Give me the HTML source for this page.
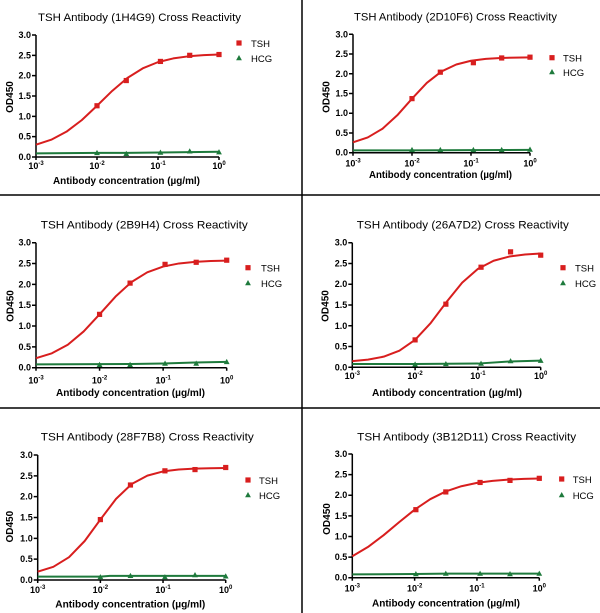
<!DOCTYPE html>
<html><head><meta charset="utf-8"><style>
html,body{margin:0;padding:0;background:#fff;}
svg{display:block;}
text{font-family:"Liberation Sans",Arial,sans-serif;fill:#000;}
.tt{font-size:11px;}
.tk{font-size:9px;font-weight:bold;}
.ax{font-size:10px;font-weight:bold;}
.lg{font-size:9.5px;}
.axl{fill:none;stroke:#000;stroke-width:1.5;}
.r{fill:none;stroke:#d81e1e;stroke-width:2;vector-effect:non-scaling-stroke;stroke-linejoin:round;}
.g{fill:none;stroke:#1e7a3c;stroke-width:2;vector-effect:non-scaling-stroke;stroke-linejoin:round;}
</style></head><body>
<svg width="600" height="613" viewBox="0 0 600 613" xmlns="http://www.w3.org/2000/svg">
<defs>
<rect id="sq" x="-2.6" y="-2.6" width="5.2" height="5.2" fill="#d81e1e"/>
<path id="tr" d="M0,-3 L2.9,2.2 L-2.9,2.2Z" fill="#1e7a3c"/>
</defs>
<rect width="600" height="613" fill="#fff"/>
<path d="M302,0V613M0,195H600M0,408H600" stroke="#000" stroke-width="1.5" fill="none"/>

<!-- Panel 1 -->
<text class="tt" x="139.5" y="21" text-anchor="middle" textLength="203" lengthAdjust="spacingAndGlyphs">TSH Antibody (1H4G9) Cross Reactivity</text>
<text class="ax" x="126.5" y="184" text-anchor="middle" textLength="147" lengthAdjust="spacingAndGlyphs">Antibody concentration (µg/ml)</text>
<text class="ax" transform="translate(9.5,97) rotate(-90)" y="3.5" text-anchor="middle">OD450</text>
<use href="#sq" x="239" y="43"/><text class="lg" x="251" y="47">TSH</text>
<use href="#tr" x="239" y="58"/><text class="lg" x="251" y="62">HCG</text>
<g transform="translate(36,157)">
<path class="axl" d="M0,0V-122M0,0H183M-4,0H0M-4,-20.33H0M-4,-40.67H0M-4,-61H0M-4,-81.33H0M-4,-101.67H0M-4,-122H0M0,0V3M61,0V3M122,0V3M183,0V3"/>
<g class="tk" text-anchor="end">
<text x="-5" y="3">0.0</text><text x="-5" y="-17.33">0.5</text><text x="-5" y="-37.67">1.0</text><text x="-5" y="-58">1.5</text><text x="-5" y="-78.33">2.0</text><text x="-5" y="-98.67">2.5</text><text x="-5" y="-119">3.0</text>
</g>
<g class="tk" text-anchor="middle">
<text x="0" y="12">10<tspan dy="-4" font-size="6">-3</tspan></text>
<text x="61" y="12">10<tspan dy="-4" font-size="6">-2</tspan></text>
<text x="122" y="12">10<tspan dy="-4" font-size="6">-1</tspan></text>
<text x="183" y="12">10<tspan dy="-4" font-size="6">0</tspan></text>
</g>
<g transform="scale(61,-40.667)">
<polyline class="g" points="0,0.09 1,0.1 1.48,0.1 2.04,0.11 2.52,0.12 3,0.13"/>
<polyline class="r" points="0,0.302 0.25,0.425 0.5,0.623 0.75,0.907 1,1.26 1.25,1.627 1.5,1.946 1.75,2.18 2,2.333 2.25,2.424 2.5,2.476 2.75,2.505 3,2.521"/>
<use href="#sq" transform="translate(1,1.26) scale(0.016393,-0.02459)"/>
<use href="#sq" transform="translate(1.48,1.88) scale(0.016393,-0.02459)"/>
<use href="#sq" transform="translate(2.04,2.35) scale(0.016393,-0.02459)"/>
<use href="#sq" transform="translate(2.52,2.5) scale(0.016393,-0.02459)"/>
<use href="#sq" transform="translate(3,2.52) scale(0.016393,-0.02459)"/>
<use href="#tr" transform="translate(1,0.1) scale(0.016393,-0.02459)"/>
<use href="#tr" transform="translate(1.48,0.08) scale(0.016393,-0.02459)"/>
<use href="#tr" transform="translate(2.04,0.11) scale(0.016393,-0.02459)"/>
<use href="#tr" transform="translate(2.52,0.14) scale(0.016393,-0.02459)"/>
<use href="#tr" transform="translate(3,0.12) scale(0.016393,-0.02459)"/>
</g>
</g>

<!-- Panel 2 -->
<text class="tt" x="455.5" y="20.5" text-anchor="middle" textLength="203" lengthAdjust="spacingAndGlyphs">TSH Antibody (2D10F6) Cross Reactivity</text>
<text class="ax" x="440.5" y="178" text-anchor="middle" textLength="143" lengthAdjust="spacingAndGlyphs">Antibody concentration (µg/ml)</text>
<text class="ax" transform="translate(326,97) rotate(-90)" y="3.5" text-anchor="middle">OD450</text>
<use href="#sq" x="552" y="57.7"/><text class="lg" x="563" y="61.5">TSH</text>
<use href="#tr" x="552" y="72"/><text class="lg" x="563" y="76">HCG</text>
<g transform="translate(353,152.7)">
<path class="axl" d="M0,0V-118.4M0,0H177M-4,0H0M-4,-19.73H0M-4,-39.47H0M-4,-59.2H0M-4,-78.93H0M-4,-98.67H0M-4,-118.4H0M0,0V3M59,0V3M118,0V3M177,0V3"/>
<g class="tk" text-anchor="end">
<text x="-5" y="3">0.0</text><text x="-5" y="-16.73">0.5</text><text x="-5" y="-36.47">1.0</text><text x="-5" y="-56.2">1.5</text><text x="-5" y="-75.93">2.0</text><text x="-5" y="-95.67">2.5</text><text x="-5" y="-115.4">3.0</text>
</g>
<g class="tk" text-anchor="middle">
<text x="0" y="13.7">10<tspan dy="-4" font-size="6">-3</tspan></text>
<text x="59" y="13.7">10<tspan dy="-4" font-size="6">-2</tspan></text>
<text x="118" y="13.7">10<tspan dy="-4" font-size="6">-1</tspan></text>
<text x="177" y="13.7">10<tspan dy="-4" font-size="6">0</tspan></text>
</g>
<g transform="scale(59,-39.47)">
<polyline class="g" points="0,0.06 1,0.06 2,0.065 3,0.07"/>
<polyline class="r" points="0,0.263 0.25,0.387 0.5,0.608 0.75,0.948 1,1.369 1.25,1.767 1.5,2.059 1.75,2.235 2,2.329 2.25,2.376 2.5,2.399 2.75,2.41 3,2.415"/>
<use href="#sq" transform="translate(1,1.37) scale(0.016949,-0.025336)"/>
<use href="#sq" transform="translate(1.48,2.04) scale(0.016949,-0.025336)"/>
<use href="#sq" transform="translate(2.04,2.28) scale(0.016949,-0.025336)"/>
<use href="#sq" transform="translate(2.52,2.4) scale(0.016949,-0.025336)"/>
<use href="#sq" transform="translate(3,2.42) scale(0.016949,-0.025336)"/>
<use href="#tr" transform="translate(1,0.07) scale(0.016949,-0.025336)"/>
<use href="#tr" transform="translate(1.48,0.07) scale(0.016949,-0.025336)"/>
<use href="#tr" transform="translate(2.04,0.07) scale(0.016949,-0.025336)"/>
<use href="#tr" transform="translate(2.52,0.07) scale(0.016949,-0.025336)"/>
<use href="#tr" transform="translate(3,0.08) scale(0.016949,-0.025336)"/>
</g>
</g>

<!-- Panel 3 -->
<text class="tt" x="144.3" y="228.5" text-anchor="middle" textLength="207" lengthAdjust="spacingAndGlyphs">TSH Antibody (2B9H4) Cross Reactivity</text>
<text class="ax" x="130.5" y="396" text-anchor="middle" textLength="149" lengthAdjust="spacingAndGlyphs">Antibody concentration (µg/ml)</text>
<text class="ax" transform="translate(10,306) rotate(-90)" y="3.5" text-anchor="middle">OD450</text>
<use href="#sq" x="248" y="267.7"/><text class="lg" x="261" y="271.5">TSH</text>
<use href="#tr" x="248" y="283"/><text class="lg" x="261" y="287">HCG</text>
<g transform="translate(36,367.7)">
<path class="axl" d="M0,0V-125M0,0H190.7M-4,0H0M-4,-20.83H0M-4,-41.67H0M-4,-62.5H0M-4,-83.33H0M-4,-104.17H0M-4,-125H0M0,0V3M63.57,0V3M127.13,0V3M190.7,0V3"/>
<g class="tk" text-anchor="end">
<text x="-5" y="3">0.0</text><text x="-5" y="-17.83">0.5</text><text x="-5" y="-38.67">1.0</text><text x="-5" y="-59.5">1.5</text><text x="-5" y="-80.33">2.0</text><text x="-5" y="-101.17">2.5</text><text x="-5" y="-122">3.0</text>
</g>
<g class="tk" text-anchor="middle">
<text x="0" y="16">10<tspan dy="-4" font-size="6">-3</tspan></text>
<text x="63.57" y="16">10<tspan dy="-4" font-size="6">-2</tspan></text>
<text x="127.13" y="16">10<tspan dy="-4" font-size="6">-1</tspan></text>
<text x="190.7" y="16">10<tspan dy="-4" font-size="6">0</tspan></text>
</g>
<g transform="scale(63.57,-41.667)">
<polyline class="g" points="0,0.08 1,0.085 1.5,0.09 2,0.1 2.5,0.125 3,0.14"/>
<polyline class="r" points="0,0.228 0.25,0.346 0.5,0.551 0.75,0.87 1,1.28 1.25,1.705 1.5,2.054 1.75,2.289 2,2.427 2.25,2.502 2.5,2.541 2.75,2.56 3,2.57"/>
<use href="#sq" transform="translate(1,1.28) scale(0.015731,-0.024)"/>
<use href="#sq" transform="translate(1.48,2.03) scale(0.015731,-0.024)"/>
<use href="#sq" transform="translate(2.03,2.48) scale(0.015731,-0.024)"/>
<use href="#sq" transform="translate(2.52,2.53) scale(0.015731,-0.024)"/>
<use href="#sq" transform="translate(3,2.58) scale(0.015731,-0.024)"/>
<use href="#tr" transform="translate(1,0.07) scale(0.015731,-0.024)"/>
<use href="#tr" transform="translate(1.48,0.07) scale(0.015731,-0.024)"/>
<use href="#tr" transform="translate(2.03,0.1) scale(0.015731,-0.024)"/>
<use href="#tr" transform="translate(2.52,0.1) scale(0.015731,-0.024)"/>
<use href="#tr" transform="translate(3,0.14) scale(0.015731,-0.024)"/>
</g>
</g>

<!-- Panel 4 -->
<text class="tt" x="462.8" y="228.5" text-anchor="middle" textLength="212" lengthAdjust="spacingAndGlyphs">TSH Antibody (26A7D2) Cross Reactivity</text>
<text class="ax" x="447" y="396" text-anchor="middle" textLength="150" lengthAdjust="spacingAndGlyphs">Antibody concentration (µg/ml)</text>
<text class="ax" transform="translate(325,306) rotate(-90)" y="3.5" text-anchor="middle">OD450</text>
<use href="#sq" x="563" y="267.7"/><text class="lg" x="575" y="271.5">TSH</text>
<use href="#tr" x="563" y="283"/><text class="lg" x="575" y="287">HCG</text>
<g transform="translate(352.3,367.3)">
<path class="axl" d="M0,0V-124.6M0,0H188.4M-4,0H0M-4,-20.77H0M-4,-41.53H0M-4,-62.3H0M-4,-83.07H0M-4,-103.83H0M-4,-124.6H0M0,0V3M62.8,0V3M125.6,0V3M188.4,0V3"/>
<g class="tk" text-anchor="end">
<text x="-5" y="3">0.0</text><text x="-5" y="-17.77">0.5</text><text x="-5" y="-38.53">1.0</text><text x="-5" y="-59.3">1.5</text><text x="-5" y="-80.07">2.0</text><text x="-5" y="-100.83">2.5</text><text x="-5" y="-121.6">3.0</text>
</g>
<g class="tk" text-anchor="middle">
<text x="0" y="11.8">10<tspan dy="-4" font-size="6">-3</tspan></text>
<text x="62.8" y="11.8">10<tspan dy="-4" font-size="6">-2</tspan></text>
<text x="125.6" y="11.8">10<tspan dy="-4" font-size="6">-1</tspan></text>
<text x="188.4" y="11.8">10<tspan dy="-4" font-size="6">0</tspan></text>
</g>
<g transform="scale(62.8,-41.53)">
<polyline class="g" points="0,0.08 1,0.08 1.5,0.085 2,0.09 2.5,0.14 3,0.16"/>
<polyline class="r" points="0,0.15 0.25,0.184 0.5,0.256 0.75,0.399 1,0.661 1.25,1.069 1.5,1.571 1.75,2.038 2,2.371 2.25,2.566 2.5,2.667 2.75,2.716 3,2.74"/>
<use href="#sq" transform="translate(1,0.66) scale(0.015924,-0.024077)"/>
<use href="#sq" transform="translate(1.49,1.52) scale(0.015924,-0.024077)"/>
<use href="#sq" transform="translate(2.05,2.41) scale(0.015924,-0.024077)"/>
<use href="#sq" transform="translate(2.52,2.78) scale(0.015924,-0.024077)"/>
<use href="#sq" transform="translate(3,2.7) scale(0.015924,-0.024077)"/>
<use href="#tr" transform="translate(1,0.07) scale(0.015924,-0.024077)"/>
<use href="#tr" transform="translate(1.49,0.08) scale(0.015924,-0.024077)"/>
<use href="#tr" transform="translate(2.05,0.09) scale(0.015924,-0.024077)"/>
<use href="#tr" transform="translate(2.52,0.15) scale(0.015924,-0.024077)"/>
<use href="#tr" transform="translate(3,0.16) scale(0.015924,-0.024077)"/>
</g>
</g>

<!-- Panel 5 -->
<text class="tt" x="147.3" y="440.5" text-anchor="middle" textLength="213" lengthAdjust="spacingAndGlyphs">TSH Antibody (28F7B8) Cross Reactivity</text>
<text class="ax" x="130.3" y="607.5" text-anchor="middle" textLength="150" lengthAdjust="spacingAndGlyphs">Antibody concentration (µg/ml)</text>
<text class="ax" transform="translate(9.3,526.7) rotate(-90)" y="3.5" text-anchor="middle">OD450</text>
<use href="#sq" x="248" y="480"/><text class="lg" x="259" y="484">TSH</text>
<use href="#tr" x="248" y="495"/><text class="lg" x="259" y="499">HCG</text>
<g transform="translate(37.7,580)">
<path class="axl" d="M0,0V-125M0,0H188M-4,0H0M-4,-20.83H0M-4,-41.67H0M-4,-62.5H0M-4,-83.33H0M-4,-104.17H0M-4,-125H0M0,0V3M62.67,0V3M125.33,0V3M188,0V3"/>
<g class="tk" text-anchor="end">
<text x="-5" y="3">0.0</text><text x="-5" y="-17.83">0.5</text><text x="-5" y="-38.67">1.0</text><text x="-5" y="-59.5">1.5</text><text x="-5" y="-80.33">2.0</text><text x="-5" y="-101.17">2.5</text><text x="-5" y="-122">3.0</text>
</g>
<g class="tk" text-anchor="middle">
<text x="0" y="13">10<tspan dy="-4" font-size="6">-3</tspan></text>
<text x="62.67" y="13">10<tspan dy="-4" font-size="6">-2</tspan></text>
<text x="125.33" y="13">10<tspan dy="-4" font-size="6">-1</tspan></text>
<text x="188" y="13">10<tspan dy="-4" font-size="6">0</tspan></text>
</g>
<g transform="scale(62.67,-41.667)">
<polyline class="g" points="0,0.08 1,0.08 1.15,0.1 3,0.1"/>
<polyline class="r" points="0,0.199 0.25,0.317 0.5,0.547 0.75,0.936 1,1.45 1.25,1.947 1.5,2.303 1.75,2.505 2,2.606 2.25,2.652 2.5,2.673 2.75,2.683 3,2.687"/>
<use href="#sq" transform="translate(1,1.45) scale(0.015957,-0.024)"/>
<use href="#sq" transform="translate(1.48,2.28) scale(0.015957,-0.024)"/>
<use href="#sq" transform="translate(2.03,2.62) scale(0.015957,-0.024)"/>
<use href="#sq" transform="translate(2.51,2.65) scale(0.015957,-0.024)"/>
<use href="#sq" transform="translate(3,2.7) scale(0.015957,-0.024)"/>
<use href="#tr" transform="translate(1,0.07) scale(0.015957,-0.024)"/>
<use href="#tr" transform="translate(1.48,0.1) scale(0.015957,-0.024)"/>
<use href="#tr" transform="translate(2.03,0.07) scale(0.015957,-0.024)"/>
<use href="#tr" transform="translate(2.51,0.12) scale(0.015957,-0.024)"/>
<use href="#tr" transform="translate(3,0.09) scale(0.015957,-0.024)"/>
</g>
</g>

<!-- Panel 6 -->
<text class="tt" x="466.7" y="440.5" text-anchor="middle" textLength="219" lengthAdjust="spacingAndGlyphs">TSH Antibody (3B12D11) Cross Reactivity</text>
<text class="ax" x="446" y="606.5" text-anchor="middle" textLength="148" lengthAdjust="spacingAndGlyphs">Antibody concentration (µg/ml)</text>
<text class="ax" transform="translate(326.7,519) rotate(-90)" y="3.5" text-anchor="middle">OD450</text>
<use href="#sq" x="561.7" y="479"/><text class="lg" x="572.7" y="483">TSH</text>
<use href="#tr" x="561.7" y="495"/><text class="lg" x="572.7" y="499">HCG</text>
<g transform="translate(352.3,577.7)">
<path class="axl" d="M0,0V-123.7M0,0H187M-4,0H0M-4,-20.62H0M-4,-41.23H0M-4,-61.85H0M-4,-82.47H0M-4,-103.08H0M-4,-123.7H0M0,0V3M62.33,0V3M124.67,0V3M187,0V3"/>
<g class="tk" text-anchor="end">
<text x="-5" y="3">0.0</text><text x="-5" y="-17.62">0.5</text><text x="-5" y="-38.23">1.0</text><text x="-5" y="-58.85">1.5</text><text x="-5" y="-79.47">2.0</text><text x="-5" y="-100.08">2.5</text><text x="-5" y="-120.7">3.0</text>
</g>
<g class="tk" text-anchor="middle">
<text x="0" y="13.7">10<tspan dy="-4" font-size="6">-3</tspan></text>
<text x="62.33" y="13.7">10<tspan dy="-4" font-size="6">-2</tspan></text>
<text x="124.67" y="13.7">10<tspan dy="-4" font-size="6">-1</tspan></text>
<text x="187" y="13.7">10<tspan dy="-4" font-size="6">0</tspan></text>
</g>
<g transform="scale(62.33,-41.23)">
<polyline class="g" points="0,0.08 1,0.09 1.5,0.1 3,0.1"/>
<polyline class="r" points="0,0.52 0.25,0.744 0.5,1.028 0.75,1.345 1,1.65 1.25,1.904 1.5,2.092 1.75,2.219 2,2.3 2.25,2.349 2.5,2.379 2.75,2.396 3,2.406"/>
<use href="#sq" transform="translate(1.02,1.65) scale(0.016043,-0.024254)"/>
<use href="#sq" transform="translate(1.5,2.08) scale(0.016043,-0.024254)"/>
<use href="#sq" transform="translate(2.05,2.31) scale(0.016043,-0.024254)"/>
<use href="#sq" transform="translate(2.53,2.36) scale(0.016043,-0.024254)"/>
<use href="#sq" transform="translate(3,2.41) scale(0.016043,-0.024254)"/>
<use href="#tr" transform="translate(1.02,0.09) scale(0.016043,-0.024254)"/>
<use href="#tr" transform="translate(1.5,0.1) scale(0.016043,-0.024254)"/>
<use href="#tr" transform="translate(2.05,0.1) scale(0.016043,-0.024254)"/>
<use href="#tr" transform="translate(2.53,0.09) scale(0.016043,-0.024254)"/>
<use href="#tr" transform="translate(3,0.1) scale(0.016043,-0.024254)"/>
</g>
</g>
</svg>
</body></html>
